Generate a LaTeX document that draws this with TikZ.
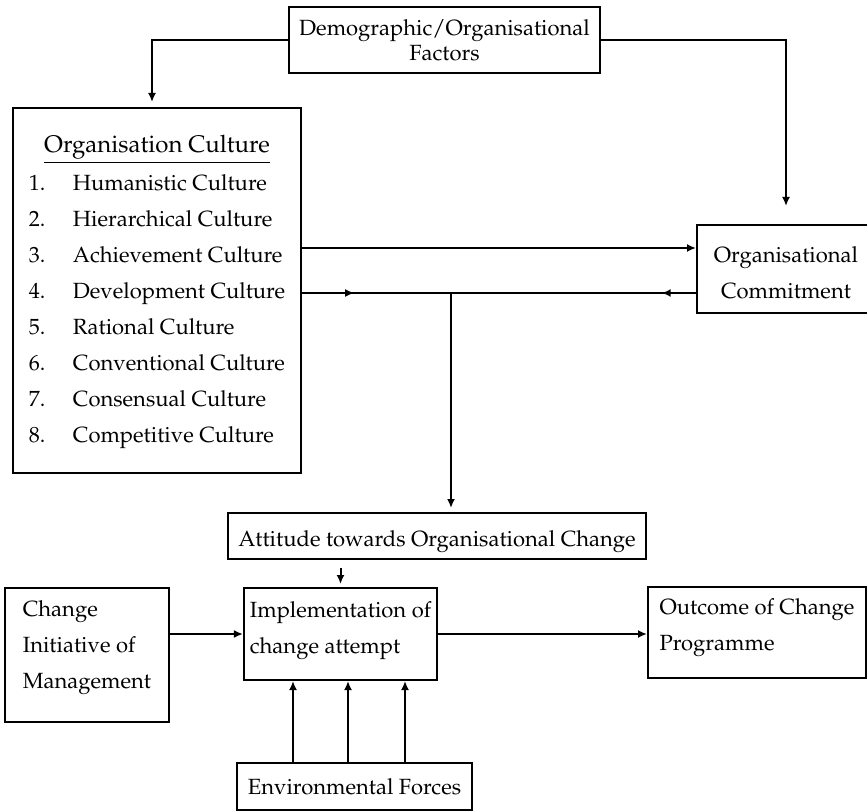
\documentclass[tikz,border=0pt]{standalone}
\usepackage[T1]{fontenc}
\usepackage{mathpazo}
\usepackage{tikz}
\usetikzlibrary{arrows.meta,decorations.markings}

\tikzset{
  box/.style={draw, line width=1pt, font=\fontsize{11}{18}\selectfont, inner sep=3pt},
  flow/.style={line width=1pt, -{Latex[length=4.5pt,width=4pt]}},
  midtip/.style={line width=1pt, postaction={decorate},
    decoration={markings, mark=at position #1 with {\arrow{Latex[length=4.5pt,width=4pt]}}}}
}

\begin{document}
\begin{tikzpicture}[x=0.5pt,y=-0.5pt]
            \useasboundingbox (0,0) rectangle (867,812);
            \node[box, font=\fontsize{11}{12.5}\selectfont, minimum width=155.5pt, minimum height=33pt, align=center] (demo) at (444.5,40) {Demographic/Organisational\\Factors};
            \node[box, minimum width=144pt, minimum height=182.5pt] (culture) at (157,290.5) {%
              \begin{tabular}{@{}p{22pt}@{}l@{}}
                \multicolumn{2}{c}{\large\underline{Organisation Culture}}\\[1pt]
                1. & Humanistic Culture\\
                2. & Hierarchical Culture\\
                3. & Achievement Culture\\
                4. & Development Culture\\
                5. & Rational Culture\\
                6. & Conventional Culture\\
                7. & Consensual Culture\\
                8. & Competitive Culture
              \end{tabular}};
            \node[box, minimum width=89pt, minimum height=44pt, align=center, text height=29.5pt] (commit) at (786,269) {Organisational\\Commitment};
            \node[box, minimum width=209pt, minimum height=23pt, text height=13pt, text depth=3pt] (attitude) at (437,536) {Attitude towards Organisational Change};
            \node[box, minimum width=96.5pt, minimum height=46pt, align=left, text depth=6.5pt] (impl) at (340.5,634) {Implementation of\\change attempt};
            \node[box, minimum width=82pt, minimum height=67pt, align=left, text depth=10pt] (change) at (87,655) {Change\\Initiative of\\Management};
            \node[box, minimum width=109pt, minimum height=45.5pt, align=left, text depth=7.5pt] (outcome) at (757,632.5) {Outcome of Change\\Programme};
            \node[box, minimum width=117.5pt, minimum height=23.5pt] (env) at (354.5,786.5) {Environmental Forces};

            \coordinate (upin) at ([yshift=10.5pt]commit.west);
            \coordinate (backin) at ([yshift=-12pt]commit.west);
            \coordinate (junc) at (451,293);

            \draw[flow, shorten >=2.5pt] (demo.west) -| ([xshift=-2.5pt]culture.north);
            \draw[flow, shorten >=9pt] (demo.east) -| (commit.north);
            \draw[flow] (culture.east |- upin) -- (upin);
            \draw[midtip=0.35] (culture.east |- junc) -- (junc);
            \draw[midtip=0.14] (backin) -- (junc);
            \draw[flow, shorten >=2pt] (junc) -- (junc |- attitude.north);
            \draw[flow, shorten <=4pt, shorten >=1.5pt] (attitude.south -| impl.north) -- (impl.north);
            \draw[flow] (impl.west -| change.east) -- (impl.west);
            \draw[flow] (impl.east) -- (impl.east -| outcome.west);
            \foreach \x in {293,348,405}
              \draw[flow] (env.north -| \x,0) -- (impl.south -| \x,0);
        \end{tikzpicture}
\end{document}
